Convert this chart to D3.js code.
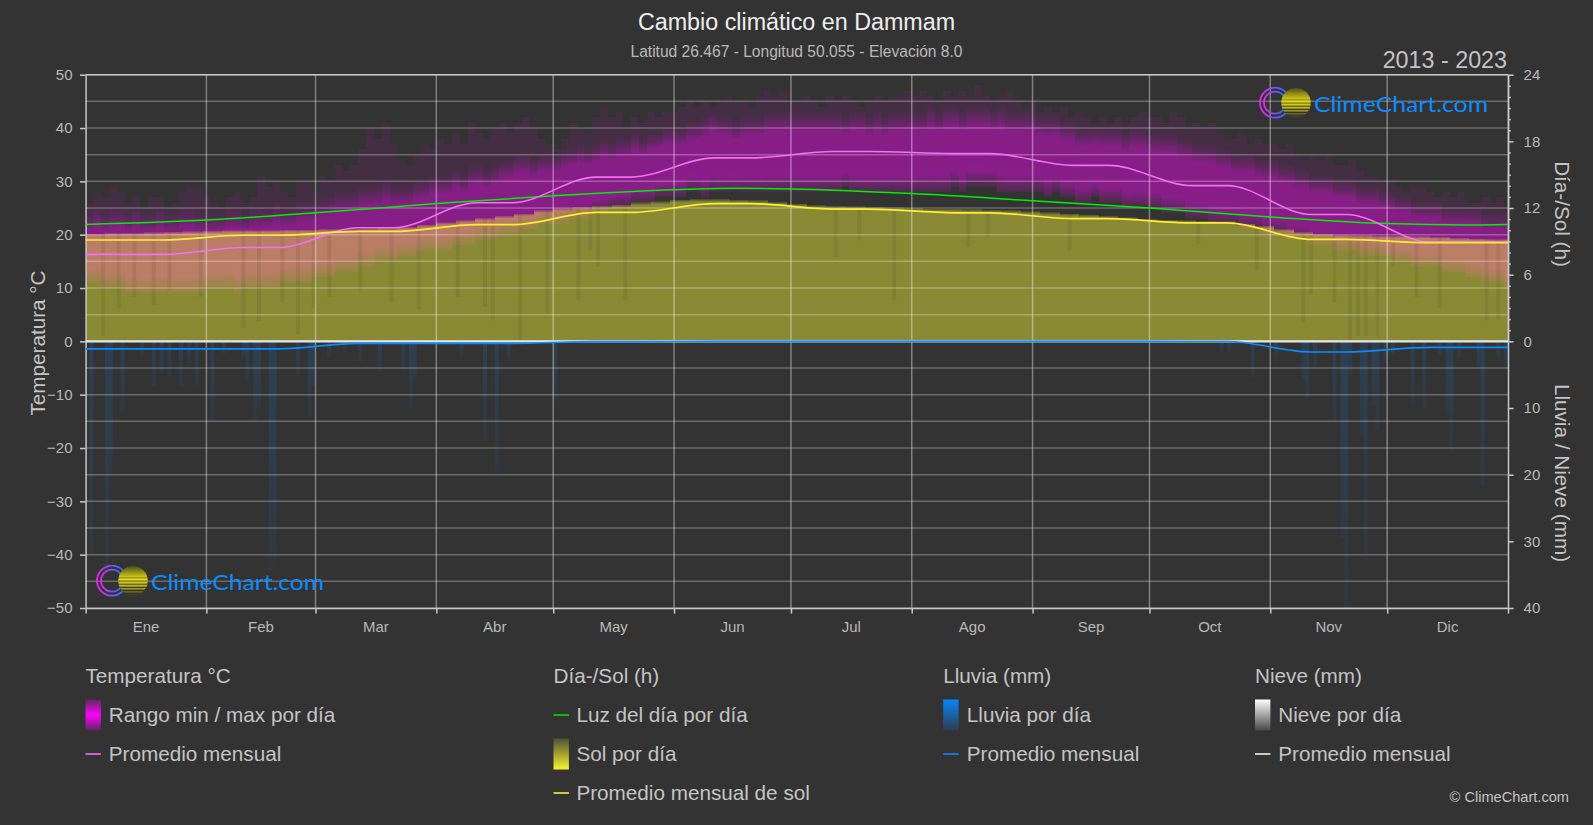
<!DOCTYPE html>
<html><head><meta charset="utf-8">
<script src="https://cdn.jsdelivr.net/npm/d3@7"></script>
<style>
html,body{margin:0;padding:0;background:#333;overflow:hidden}
svg{display:block}
text{font-family:"Liberation Sans",Arial,sans-serif}
</style></head><body><svg id="c" width="1593" height="825"></svg>
<script>
const months=["Ene","Feb","Mar","Abr","May","Jun","Jul","Ago","Sep","Oct","Nov","Dic"];
const monthStart=[0,31,59,90,120,151,181,212,243,273,304,334,365];
const tempTicks=[50,40,30,20,10,0,-10,-20,-30,-40,-50];
const tempGrid=[45,35,25,15,5,-5,-15,-25,-35,-45];
const sunTicks=[0,6,12,18,24];
const sunMinor=[1,2,3,4,5,7,8,9,10,11,13,14,15,16,17,19,20,21,22,23];
const rainTicks=[10,20,30,40];

// monthly means
const tempMonthly=[16.3,17.6,21.3,26,30.8,34.4,35.6,35.2,33,29.2,23.8,18.6];
const sunMonthly=[9.12,9.55,9.89,10.5,11.6,12.4,11.9,11.57,11.04,10.66,9.17,8.88];
const rainMonthly=[1.12,1.12,0.3,0.3,0.05,0,0,0,0,0.02,1.6,0.9];
const snowMonthly=[0,0,0,0,0,0,0,0,0,0,0,0];

// daylight readings
const lightDays=[0,31,59,90,120,151,166,181,212,243,273,304,334,355,365];
const lightHours=[10.52,10.92,11.57,12.4,13.1,13.65,13.77,13.72,13.3,12.65,12,11.2,10.6,10.48,10.52];

// two-day columns: faint peak, top and bottom of the main temperature band
const tempPeak=[26,28,27,29,28,26,27,25,27,27,25,26,28,29,29,27,
26,25,27,28,26,27,31,29,30,28,27,30,30,28,
31,30,33,32,33,36,40,38,41,37,34,33,35,37,36,38,
37,39,37,41,39,38,40,41,39,41,42,40,38,37,36,
38,41,40,39,42,44,42,43,40,42,41,43,42,43,43,
44,45,44,45,44,45,46,45,45,44,46,47,46,47,45,
45,46,45,44,46,45,46,45,44,45,46,45,46,46,47,
46,47,46,45,47,46,47,46,48,46,45,46,47,45,44,45,
43,44,43,44,42,43,42,41,42,41,42,41,42,43,42,
42,41,43,42,40,41,40,41,39,38,38,39,37,38,37,
37,36,37,35,34,35,34,35,33,33,34,32,31,31,30,
30,29,28,29,29,28,27,28,27,28,26,26,27,26,27,25];
const tempHigh=[24,25,24,25,25,24,25,24,24,25,24,24,25,25,24,24,
24,24,25,25,24,25,25,25,26,25,25,26,26,26,
27,27,28,28,28,29,29,29,30,29,29,29,30,30,31,31,
31,32,31,33,33,32,33,34,34,35,35,34,35,35,35,
36,36,37,36,37,38,37,38,38,39,38,39,39,40,40,
40,41,41,42,43,42,42,41,42,42,42,43,43,43,43,
43,43,43,43,43,43,42,43,43,42,43,42,43,43,43,
43,43,44,43,44,44,43,44,44,44,43,44,43,43,43,43,
42,42,42,41,41,40,40,40,40,40,40,39,40,40,39,
39,39,39,38,38,37,37,37,36,36,35,35,35,34,34,
34,33,33,32,32,31,31,31,30,30,30,29,29,29,28,
28,27,27,26,26,26,26,25,25,25,25,25,24,24,24,24];
const tempLow=[11,11,10,10,10,9,9,9,9,9,9,9,9,9,9,10,
10,10,10,9,10,10,10,10,10,11,11,11,11,12,
12,12,13,13,13,14,14,15,15,15,16,16,16,17,17,17,
17,18,18,18,19,19,19,20,20,20,21,21,22,22,22,
22,23,23,23,24,24,25,25,25,26,26,26,27,27,27,
27,28,28,27,28,28,28,28,28,28,28,28,28,28,28,
28,28,28,28,28,28,29,28,28,28,28,28,28,28,28,
28,28,28,28,28,29,28,29,29,29,29,28,28,28,28,28,
28,27,28,27,27,26,26,27,26,26,26,25,25,25,25,
25,24,24,24,23,23,23,22,22,22,22,21,21,21,20,
20,20,19,19,19,18,18,18,17,17,17,16,16,16,16,
15,15,15,14,14,14,14,13,13,13,12,12,11,11,11,10];

// five-day columns: top of sunshine, hours
const sunTop=[9.7,9.75,9.75,9.8,9.85,9.9,
9.95,10,10,10,10.05,10.05,
10.1,10.1,10.15,10.2,10.3,10.5,
10.7,10.9,11.1,11.3,11.5,11.8,
12,12.1,12.2,12.3,12.5,12.6,
12.75,12.8,12.8,12.75,12.7,12.55,
12.4,12.25,12.2,12.15,12.1,12.05,
12,11.95,11.95,11.9,11.85,11.8,
11.7,11.6,11.5,11.4,11.3,11.15,
11,10.95,10.9,10.85,10.8,10.6,
10.4,10.1,9.85,9.7,9.6,9.55,
9.5,9.5,9.45,9.4,9.3,9.25,9.2];

// cloudy-day streaks
const dipDays=[4,8,12,17,21,29,40,44,50,54,58,62,70,78,85,95,102,104,111,118,126,129,131,138,192,198,207,226,231,252,285,300,312,314,320,324,326,328,331,335,341,347,359,362];
const dipHours=[0.5,3,4,3.3,4.5,4,1.2,1.8,3.5,0.6,3,4,4.5,3.5,2.9,4,3.1,1.9,0,2.5,3.7,8.2,6.7,3.7,7.6,9.1,3.7,8.5,9.4,8.2,8.8,6.4,1.7,4.3,3.5,0,0.5,0.5,0.4,6.7,4,3,1.9,2];

// rainy days
const rainDays=[1,5,6,9,14,17,19,21,24,26,28,32,35,40,41,43,44,47,48,54,57,58,62,66,70,75,81,83,84,96,102,105,108,120,291,293,299,305,312,313,315,320,322,323,324,327,328,330,331,333,335,340,343,347,349,350,352,357,358,362,364];
const rainMm=[31.8,34,19.8,10.5,2.3,6.8,4.8,5.3,6.8,3.3,6.5,11.8,1.8,2.3,6.3,11.8,9.8,34.3,33,5.3,11.3,6.8,2.5,1.5,3,5,4.3,9.5,5.3,2.3,14.3,19.7,2.6,8.9,1.6,1.6,5.4,3,5.6,8.6,3.9,12.1,29.6,39.9,5,14.1,31.9,9.6,13.4,3.3,2.1,9.4,9.9,2,10.9,16.4,2.5,4.1,21.6,2.6,3.9];

const svg=d3.select("#c");
const L=85.6,R=1508,T=74.7,Z=341.35,B=608;
const x=d3.scaleLinear().domain([0,365]).range([L,R]);
const yT=d3.scaleLinear().domain([-50,50]).range([B,T]);
const yS=d3.scaleLinear().domain([0,24]).range([Z,T]);
const yR=d3.scaleLinear().domain([0,40]).range([Z,B]);
const cx0=d=>Math.round(x(d));
const cw=(d,s)=>Math.round(x(Math.min(365,d+s)))-Math.round(x(d));

const defs=svg.append("defs");
function grad(id,stops,hor){
  const g=defs.append("linearGradient").attr("id",id).attr("x1",0).attr("y1",0).attr("x2",hor?1:0).attr("y2",hor?0:1);
  stops.forEach(s=>g.append("stop").attr("offset",s[0]).attr("stop-color",s[1]).attr("stop-opacity",s[2]));
}
grad("gTemp",[[0,"#ff00ff",0.02],[0.12,"#ff00ff",0.15],[0.24,"#ff00ff",0.35],[0.8,"#ff00ff",0.37],[1,"#ff00ff",0.02]]);
grad("gSun",[[0,"#ffff38",0.1],[0.02,"#ffff38",0.425],[1,"#ffff38",0.425]]);
grad("gRain",[[0,"#0a84ff",0.17],[1,"#0a84ff",0.07]]);
grad("lgTemp",[[0,"#ff00ff",0.2],[0.5,"#ff00ff",1],[1,"#ff00ff",0.2]]);
grad("lgSun",[[0,"#f5f530",0.15],[1,"#f5f530",1]]);
grad("lgRain",[[0,"#0a84ff",1],[1,"#0a84ff",0.12]]);
grad("lgSnow",[[0,"#ffffff",1],[1,"#ffffff",0.1]]);
grad("lgRing",[[0,"#ee22ee",1],[1,"#1e78ff",1]],true);
grad("lgBall",[[0,"#4c4a1c",1],[0.45,"#e6de14",1],[0.7,"#b8b018",1],[1,"#404020",1]]);

// temperature columns
const plot=svg.append("g");
plot.append("g").selectAll("rect").data(tempPeak).join("rect")
  .attr("x",(d,i)=>cx0(i*2)).attr("width",(d,i)=>cw(i*2,2))
  .attr("y",d=>yT(d)).attr("height",(d,i)=>yT(tempLow[i])-yT(d))
  .attr("fill","#ff00ff").attr("opacity",0.085).attr("shape-rendering","crispEdges");
plot.append("g").selectAll("rect").data(tempHigh).join("rect")
  .attr("x",(d,i)=>cx0(i*2)).attr("width",(d,i)=>cw(i*2,2))
  .attr("y",d=>yT(d)).attr("height",(d,i)=>yT(tempLow[i])-yT(d))
  .attr("fill","url(#gTemp)").attr("shape-rendering","crispEdges");
// sunshine columns
plot.append("g").selectAll("rect").data(sunTop).join("rect")
  .attr("x",(d,i)=>cx0(i*5)).attr("width",(d,i)=>cw(i*5,5))
  .attr("y",d=>yS(d)).attr("height",d=>yS(0)-yS(d))
  .attr("fill","url(#gSun)").attr("shape-rendering","crispEdges");
plot.append("g").selectAll("rect").data(dipDays).join("rect")
  .attr("x",d=>x(d)).attr("width",x(1)-x(0))
  .attr("y",d=>yS(sunTop[Math.min(72,Math.floor(d/5))]))
  .attr("height",(d,i)=>yS(dipHours[i])-yS(sunTop[Math.min(72,Math.floor(d/5))]))
  .attr("fill","#333").attr("opacity",0.11);
// rain columns
plot.append("g").selectAll("rect").data(rainDays).join("rect")
  .attr("x",d=>x(d)).attr("width",x(1)-x(0))
  .attr("y",yR(0)).attr("height",(d,i)=>yR(rainMm[i])-yR(0))
  .attr("fill","url(#gRain)");

// grid
const grid=svg.append("g");
grid.selectAll(".h").data(tempTicks.concat(tempGrid)).join("line")
  .attr("x1",L).attr("x2",R).attr("y1",d=>yT(d)).attr("y2",d=>yT(d))
  .attr("stroke","#fff").attr("stroke-opacity",0.27).attr("stroke-width",1.5);
grid.selectAll(".v").data(monthStart.slice(1,12)).join("line")
  .attr("y1",T).attr("y2",B).attr("x1",d=>x(d)).attr("x2",d=>x(d))
  .attr("stroke","#fff").attr("stroke-opacity",0.38).attr("stroke-width",1.5);

// axes
function styleAxis(g,size){
  g.selectAll("text").attr("fill","#b9b9b9").style("font-size",(size||15)+"px").style("font-family",'"Liberation Sans",Arial,sans-serif');
  g.selectAll("line").attr("stroke","#c8c8c8").attr("stroke-width",1.5);
  g.select(".domain").attr("stroke","#c8c8c8").attr("stroke-width",1.5);
}
svg.append("g").attr("transform",`translate(${L},0)`)
  .call(d3.axisLeft(yT).tickValues(tempTicks).tickSize(5.6).tickSizeOuter(0).tickPadding(7.5).tickFormat(d3.format("d")))
  .call(styleAxis);
svg.append("g").attr("transform",`translate(${R},0)`)
  .call(d3.axisRight(yS).tickValues(sunTicks).tickSize(5.6).tickSizeOuter(0).tickPadding(10))
  .call(styleAxis);
svg.append("g").attr("transform",`translate(${R},0)`)
  .call(d3.axisRight(yS).tickValues(sunMinor).tickSize(2.8).tickSizeOuter(0).tickFormat(""))
  .call(styleAxis);
svg.append("g").attr("transform",`translate(${R},0)`)
  .call(d3.axisRight(yR).tickValues(rainTicks).tickSize(5.6).tickSizeOuter(0).tickPadding(10))
  .call(styleAxis);
const bottom=svg.append("g").attr("transform",`translate(0,${B})`)
  .call(d3.axisBottom(x).tickValues(monthStart).tickSize(5.6).tickSizeOuter(0).tickFormat(""))
  .call(styleAxis);
svg.append("line").attr("x1",L).attr("x2",R).attr("y1",T).attr("y2",T).attr("stroke","#c8c8c8").attr("stroke-width",1.5);
svg.append("g").selectAll("text").data(months).join("text")
  .attr("x",(d,i)=>x((monthStart[i]+monthStart[i+1])/2)).attr("y",631.5)
  .attr("text-anchor","middle").attr("fill","#b9b9b9").attr("font-size",15).text(d=>d);

// monthly curves: short plateau around each month's centre
function monthly(vals,scale,color,w){
  const pts=[];
  vals.forEach((v,i)=>{
    const c=(monthStart[i]+monthStart[i+1])/2;
    if(i===0) pts.push([0,v]);
    pts.push([c-4.5,v]); pts.push([c+4.5,v]);
    if(i===11) pts.push([365,v]);
  });
  svg.append("path").attr("d",d3.line().x(d=>x(d[0])).y(d=>scale(d[1])).curve(d3.curveMonotoneX)(pts))
    .attr("fill","none").attr("stroke",color).attr("stroke-width",w);
}
monthly(snowMonthly,yR,"#e6e6e6",2.2);
monthly(rainMonthly,yR,"#0a8cff",1.7);
svg.append("path").attr("d",d3.line().x((d,i)=>x(lightDays[i])).y(d=>yS(d)).curve(d3.curveMonotoneX)(lightHours))
  .attr("fill","none").attr("stroke","#00f000").attr("stroke-width",1.5);
monthly(tempMonthly,yT,"#f56ef5",1.6);
monthly(sunMonthly,yS,"#ffee33",1.7);

// logo
function logo(cx,cy,tx,tw,id){
  const g=svg.append("g");
  [15,11].forEach(r=>{
    g.append("path").attr("d",d3.arc().innerRadius(r-0.9).outerRadius(r+0.9).startAngle(Math.PI/2+0.7).endAngle(2.5*Math.PI-0.7)())
      .attr("transform",`translate(${cx},${cy})`).attr("fill","url(#lgRing)");
  });
  const sx=cx+21, r=14.8;
  defs.append("clipPath").attr("id",id).append("circle").attr("cx",sx).attr("cy",cy).attr("r",r);
  const b=g.append("g").attr("clip-path",`url(#${id})`);
  b.append("rect").attr("x",sx-r).attr("y",cy-r).attr("width",2*r).attr("height",2*r).attr("fill","url(#lgBall)");
  [[-3,.5],[0,.7],[3,.9],[6,1.2],[9,1.5],[12,1.8]].forEach(s=>{
    b.append("rect").attr("x",sx-r).attr("width",2*r).attr("y",cy+s[0]).attr("height",s[1]).attr("fill","#333");
  });
  g.append("text").attr("x",tx).attr("y",cy+9.5).attr("fill","#0a8cff")
    .attr("textLength",tw).attr("lengthAdjust","spacingAndGlyphs")
    .style("font-family","Lato").style("font-weight",400).attr("font-size",21.5).text("ClimeChart.com");
}
logo(1275,102.7,1314,174,"b1");
logo(112,580.7,151,173,"b2");

// titles
svg.append("text").attr("x",796.5).attr("y",29.5).attr("text-anchor","middle").attr("fill","#eeeeee").attr("font-size",23.3).text("Cambio climático en Dammam");
svg.append("text").attr("x",796.5).attr("y",57).attr("text-anchor","middle").attr("fill","#b9b9b9").attr("font-size",15.6).text("Latitud 26.467 - Longitud 50.055 - Elevación 8.0");
svg.append("text").attr("x",1507).attr("y",67.5).attr("text-anchor","end").attr("fill","#c4c4c4").attr("font-size",23.3).text("2013 - 2023");
function rot(t,px,py,a,fs){svg.append("text").attr("transform",`translate(${px},${py}) rotate(${a})`).attr("text-anchor","middle").attr("fill","#c4c4c4").attr("font-size",fs||20.7).text(t);}
rot("Temperatura °C",45,343,-90);
rot("Día-/Sol (h)",1555,214,90);
rot("Lluvia / Nieve (mm)",1555,473,90);

// legend
const heads=[["Temperatura °C",85.5],["Día-/Sol (h)",553.5],["Lluvia (mm)",943.2],["Nieve (mm)",1255]];
heads.forEach(h=>svg.append("text").attr("x",h[1]).attr("y",683).attr("fill","#c4c4c4").attr("font-size",20.7).text(h[0]));
function lt(t,px,py){svg.append("text").attr("x",px).attr("y",py+7).attr("fill","#c4c4c4").attr("font-size",20.7).text(t);}
function ll(px,py,c){svg.append("line").attr("x1",px).attr("x2",px+15.4).attr("y1",py).attr("y2",py).attr("stroke",c).attr("stroke-width",1.6);}
function lr(px,py,f){svg.append("rect").attr("x",px).attr("y",py-15.5).attr("width",15.4).attr("height",31).attr("fill",`url(#${f})`);}
lr(85.5,715,"lgTemp");lt("Rango min / max por día",108.8,715);
ll(85.5,754,"#f56ef5");lt("Promedio mensual",108.8,754);
ll(553.5,715,"#00e000");lt("Luz del día por día",576.4,715);
lr(553.5,754,"lgSun");lt("Sol por día",576.4,754);
ll(553.5,793,"#ffee33");lt("Promedio mensual de sol",576.4,793);
lr(943.2,715,"lgRain");lt("Lluvia por día",966.8,715);
ll(943.2,754,"#0a8cff");lt("Promedio mensual",966.8,754);
lr(1255,715,"lgSnow");lt("Nieve por día",1278.2,715);
ll(1255,754,"#f0f0f0");lt("Promedio mensual",1278.2,754);
svg.append("text").attr("x",1569).attr("y",802).attr("text-anchor","end").attr("fill","#c4c4c4").attr("font-size",14.6).text("© ClimeChart.com");
</script></body></html>
